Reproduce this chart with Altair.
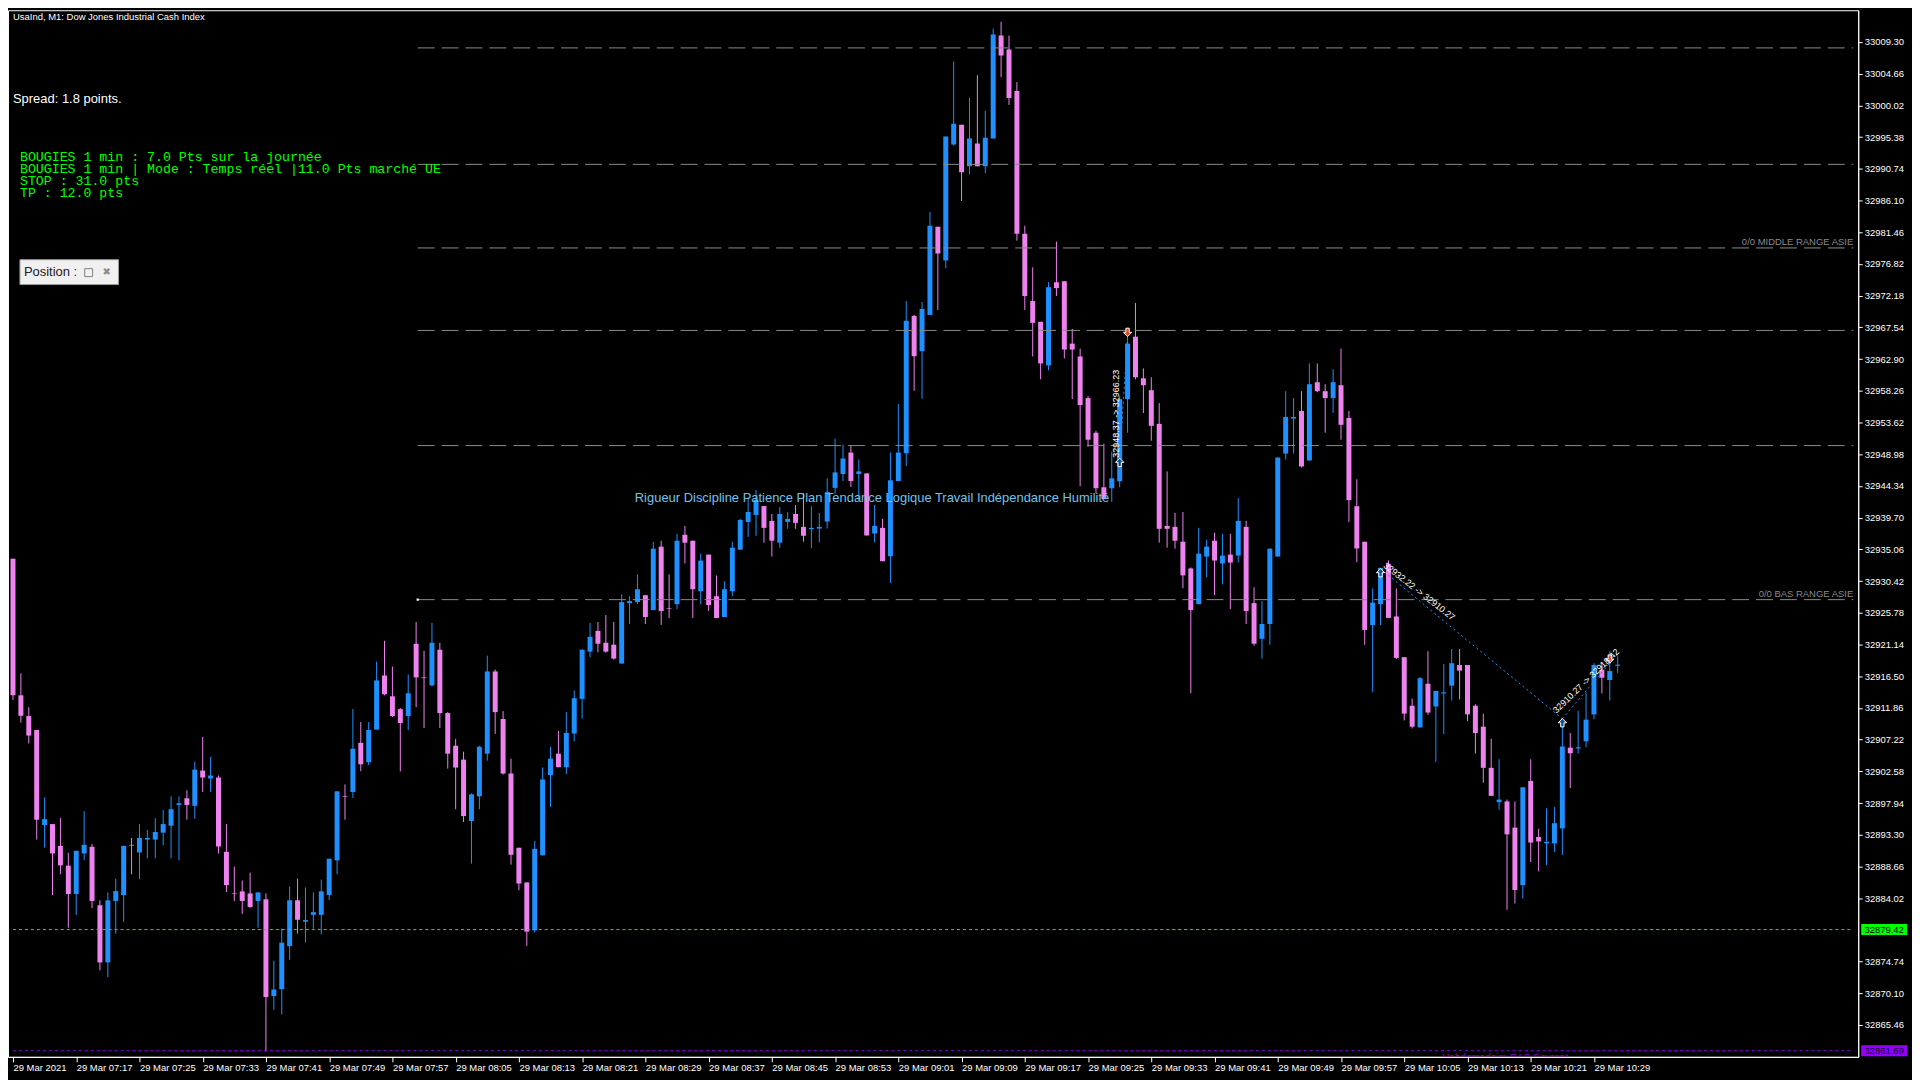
import json
import altair as alt
import pandas as pd

# ---------------- data (1-minute candles from 07:09) ----------------
opens = [32933.7, 32913.7, 32910.66, 32908.63, 32894.72, 32894.86, 32891.67, 32888.77, 32884.62, 32890.56,
         32891.53, 32882.98, 32874.62, 32883.61, 32884.47, 32891.82, 32890.71, 32892.59, 32892.59, 32893.60,
         32894.62, 32897.66, 32898.63, 32897.52, 32902.69, 32901.53, 32901.67, 32890.80, 32884.71, 32885.01,
         32884.71, 32883.61, 32883.85, 32869.69, 32870.7, 32877.0, 32883.71, 32880.57, 32881.58, 32881.58,
         32884.48, 32889.55, 32898.92, 32899.55, 32906.75, 32903.90, 32908.68, 32916.60, 32913.56, 32911.68,
         32910.66, 32921.24, 32916.32, 32915.16, 32920.37, 32911.10, 32906.32, 32904.29, 32895.30, 32898.92,
         32905.16, 32917.19, 32910.23, 32902.26, 32891.39, 32886.32, 32879.31, 32890.28, 32902.02, 32905.16,
         32903.18, 32908.11, 32913.18, 32920.09, 32923.13, 32921.39, 32921.10, 32918.35, 32927.19, 32927.33,
         32928.35, 32926.17, 32935.45, 32926.46, 32927.04, 32937.19, 32936.32, 32928.93, 32934.29, 32928.20,
         32925.16, 32928.93, 32935.01, 32939.07, 32940.09, 32941.39, 32939.22, 32936.03, 32939.07, 32940.23,
         32938.35, 32938.0, 32938.1, 32939.12, 32944.05, 32946.08, 32949.22, 32946.08, 32946.17, 32937.38,
         32938.20, 32934.05, 32945.06, 32949.12, 32969.22, 32964.05, 32969.36, 32982.26, 32977.33, 32994.29,
         32997.19, 32991.10, 32994.43, 32991.10, 32995.16, 33010.23, 33008.20, 33002.12, 32981.25, 32971.39,
         32968.35, 32961.97, 32974.14, 32974.29, 32965.16, 32963.28, 32957.19, 32952.12, 32944.14, 32944.00,
         32945.02, 32957.04, 32966.17, 32960.09, 32958.35, 32953.42, 32938.49, 32938.35, 32936.17, 32932.26,
         32927.04, 32934.00, 32936.32, 32932.99, 32934.29, 32934.14, 32938.35, 32927.19, 32921.97, 32924.14,
         32934.00, 32949.07, 32954.20, 32955.30, 32948.06, 32959.51, 32958.20, 32957.19, 32959.07, 32954.29,
         32941.37, 32936.17, 32923.98, 32927.04, 32932.90, 32925.24, 32919.28, 32912.17, 32909.00, 32915.39,
         32912.06, 32913.97, 32915.12, 32918.13, 32918.13, 32912.17, 32909.11, 32903.09, 32898.06, 32898.17,
         32894.34, 32885.92, 32901.17, 32892.97, 32892.04, 32892.04, 32894.23, 32906.04, 32905.93, 32906.97,
         32910.91, 32917.42, 32915.94, 32918.02]
highs = [32933.7, 32916.9, 32911.96, 32908.63, 32898.77, 32894.86, 32895.73, 32890.66, 32890.95, 32896.74,
         32891.96, 32883.70, 32884.86, 32886.89, 32891.67, 32892.83, 32894.86, 32894.00, 32895.73, 32896.89,
         32898.92, 32898.92, 32899.79, 32903.99, 32907.61, 32904.72, 32901.96, 32894.86, 32888.63, 32886.60,
         32887.76, 32884.86, 32884.71, 32874.86, 32879.6, 32885.74, 32886.89, 32885.59, 32884.87, 32886.75,
         32889.79, 32899.65, 32900.66, 32911.68, 32909.79, 32909.79, 32918.63, 32921.68, 32917.91, 32911.82,
         32916.75, 32924.43, 32920.23, 32924.29, 32921.39, 32911.24, 32907.33, 32905.45, 32899.35, 32906.32,
         32919.50, 32917.48, 32911.39, 32904.43, 32891.39, 32886.32, 32892.40, 32903.13, 32906.17, 32908.49,
         32911.25, 32914.43, 32920.38, 32924.29, 32924.43, 32925.45, 32924.43, 32928.49, 32928.20, 32931.39,
         32928.35, 32936.17, 32936.32, 32931.39, 32937.33, 32938.49, 32936.32, 32934.43, 32934.29, 32931.24,
         32930.38, 32936.17, 32939.51, 32942.70, 32943.76, 32941.39, 32940.23, 32941.24, 32940.52, 32941.54,
         32943.28, 32941.34, 32940.38, 32945.45, 32951.25, 32950.38, 32950.23, 32948.20, 32946.17, 32941.54,
         32939.51, 32949.22, 32956.32, 32971.39, 32969.36, 32971.25, 32984.43, 32982.26, 32995.45, 33006.46,
         32997.19, 33001.10, 33004.43, 32999.22, 33011.25, 33012.26, 33010.23, 33003.42, 32982.41, 32976.32,
         32968.35, 32974.14, 32980.09, 32974.29, 32967.33, 32964.43, 32957.48, 32952.41, 32950.52, 32949.36,
         32957.5, 32966.3, 32971.10, 32961.54, 32960.23, 32956.46, 32946.46, 32940.38, 32940.52, 32932.41,
         32938.20, 32936.46, 32937.48, 32937.33, 32937.33, 32942.55, 32939.22, 32929.51, 32927.48, 32935.16,
         32948.49, 32958.20, 32957.19, 32958.20, 32962.26, 32962.26, 32959.22, 32961.39, 32964.43, 32955.30,
         32945.31, 32936.17, 32929.34, 32932.35, 32933.44, 32929.34, 32919.28, 32913.21, 32916.38, 32920.15,
         32914.35, 32918.29, 32920.48, 32920.48, 32918.13, 32912.39, 32911.02, 32907.35, 32904.35, 32898.44,
         32898.17, 32900.24, 32904.35, 32894.17, 32897.18, 32897.35, 32910.3, 32908.18, 32911.46, 32914.13,
         32918.40, 32918.51, 32920.15, 32919.39]
lows = [32913.0, 32909.7, 32906.65, 32892.59, 32891.43, 32884.47, 32887.52, 32879.69, 32881.58, 32889.55,
        32882.59, 32873.46, 32872.45, 32878.82, 32880.56, 32887.52, 32886.79, 32889.84, 32889.84, 32891.72,
        32889.84, 32889.55, 32895.49, 32895.63, 32899.55, 32899.55, 32890.56, 32884.91, 32883.61, 32881.72,
        32882.59, 32879.69, 32861.58, 32867.66, 32867.0, 32875.0, 32878.83, 32877.52, 32879.55, 32878.68,
        32883.76, 32887.52, 32895.50, 32898.68, 32902.60, 32903.46, 32908.68, 32913.70, 32910.52, 32902.55,
        32908.63, 32911.97, 32908.92, 32915.01, 32908.92, 32902.98, 32897.04, 32895.16, 32889.07, 32897.04,
        32904.14, 32908.06, 32902.11, 32888.93, 32885.16, 32877.04, 32879.00, 32890.28, 32897.38, 32903.18,
        32902.17, 32906.95, 32910.28, 32919.27, 32919.99, 32919.94, 32918.93, 32918.35, 32924.14, 32927.04,
        32924.14, 32926.17, 32924.00, 32925.01, 32926.32, 32932.99, 32925.01, 32927.04, 32926.03, 32925.01,
        32925.16, 32928.20, 32935.01, 32936.90, 32937.04, 32936.03, 32934.00, 32935.30, 32938.06, 32938.06,
        32936.17, 32935.21, 32936.08, 32938.11, 32943.18, 32945.06, 32944.19, 32942.31, 32937.09, 32936.08,
        32933.32, 32930.14, 32945.06, 32947.24, 32958.25, 32957.09, 32969.36, 32970.09, 32976.17, 32994.14,
        32986.03, 32989.94, 32991.10, 32990.09, 32995.16, 33004.14, 33000.09, 32980.23, 32970.09, 32963.28,
        32959.94, 32961.25, 32972.12, 32962.99, 32957.04, 32944.29, 32950.09, 32943.28, 32942.41, 32941.97,
        32944.15, 32952.12, 32959.94, 32955.01, 32950.96, 32936.03, 32935.30, 32935.16, 32929.36, 32914.0,
        32927.04, 32930.96, 32928.35, 32929.94, 32926.32, 32933.13, 32924.14, 32920.96, 32919.07, 32921.10,
        32934.00, 32948.20, 32949.07, 32947.04, 32948.06, 32958.06, 32952.12, 32955.01, 32951.10, 32939.07,
        32933.17, 32921.08, 32914.14, 32923.98, 32925.02, 32919.00, 32910.03, 32908.84, 32909.00, 32910.85,
        32903.96, 32908.01, 32912.93, 32913.10, 32909.92, 32905.17, 32900.90, 32898.99, 32896.96, 32882.31,
        32883.24, 32883.95, 32889.31, 32887.94, 32888.87, 32890.78, 32890.34, 32900.13, 32905.17, 32906.10,
        32910.20, 32913.97, 32912.93, 32916.98]
closes = [32913.7, 32910.7, 32907.81, 32895.49, 32895.58, 32890.56, 32888.82, 32884.62, 32890.95, 32891.82,
          32883.61, 32874.62, 32883.70, 32885.05, 32891.67, 32891.72, 32892.83, 32892.83, 32893.70, 32894.86,
          32897.03, 32897.90, 32897.66, 32902.83, 32901.67, 32901.96, 32891.58, 32885.92, 32884.62, 32883.61,
          32882.73, 32884.86, 32869.55, 32870.66, 32877.5, 32883.71, 32880.86, 32880.81, 32881.97, 32885.01,
          32889.79, 32899.65, 32898.83, 32905.88, 32903.61, 32908.63, 32915.88, 32913.85, 32910.66, 32909.65,
          32914.00, 32916.32, 32916.22, 32921.39, 32911.10, 32905.16, 32903.13, 32896.03, 32899.21, 32906.17,
          32917.19, 32911.24, 32902.26, 32890.37, 32886.17, 32879.12, 32891.24, 32901.39, 32904.43, 32903.18,
          32908.20, 32913.28, 32920.38, 32922.26, 32921.24, 32920.09, 32919.07, 32927.33, 32927.48, 32929.22,
          32925.16, 32935.16, 32926.03, 32926.37, 32936.32, 32936.03, 32929.22, 32933.42, 32926.90, 32925.01,
          32929.22, 32935.30, 32939.36, 32940.52, 32942.31, 32938.20, 32936.32, 32940.23, 32939.51, 32938.93,
          32937.04, 32938.2, 32938.35, 32943.42, 32946.32, 32948.35, 32945.06, 32946.46, 32937.09, 32938.49,
          32933.32, 32945.16, 32949.22, 32968.49, 32963.32, 32970.23, 32982.41, 32978.35, 32995.45, 32997.33,
          32990.23, 32995.16, 32991.10, 32995.30, 33010.38, 33007.33, 33001.10, 32981.25, 32972.12, 32968.20,
          32962.26, 32973.42, 32973.28, 32964.29, 32964.29, 32956.17, 32951.10, 32944.00, 32942.41, 32945.45,
          32957.04, 32965.16, 32960.23, 32959.07, 32953.13, 32938.06, 32938.06, 32936.32, 32931.25, 32926.17,
          32934.43, 32935.45, 32933.42, 32934.14, 32933.13, 32939.22, 32926.03, 32921.25, 32924.14, 32935.16,
          32948.49, 32954.43, 32954.43, 32947.19, 32959.22, 32958.20, 32957.19, 32959.51, 32953.28, 32942.26,
          32935.19, 32923.27, 32927.26, 32932.35, 32925.02, 32919.17, 32911.02, 32909.11, 32916.21, 32911.18,
          32914.35, 32914.13, 32918.40, 32917.31, 32910.91, 32908.18, 32903.09, 32898.99, 32898.44, 32893.36,
          32885.21, 32900.24, 32892.15, 32892.32, 32892.26, 32894.99, 32906.21, 32905.22, 32906.10, 32910.14,
          32918.13, 32916.27, 32917.25, 32918.18]

x_tick_index = [0, 8, 16, 24, 32, 40, 48, 56, 64, 72, 80, 88, 96, 104, 112, 120, 128, 136, 144, 152,
                160, 168, 176, 184, 192, 200]
x_tick_labels = ["29 Mar 2021", "29 Mar 07:17", "29 Mar 07:25", "29 Mar 07:33", "29 Mar 07:41",
                 "29 Mar 07:49", "29 Mar 07:57", "29 Mar 08:05", "29 Mar 08:13", "29 Mar 08:21",
                 "29 Mar 08:29", "29 Mar 08:37", "29 Mar 08:45", "29 Mar 08:53", "29 Mar 09:01",
                 "29 Mar 09:09", "29 Mar 09:17", "29 Mar 09:25", "29 Mar 09:33", "29 Mar 09:41",
                 "29 Mar 09:49", "29 Mar 09:57", "29 Mar 10:05", "29 Mar 10:13", "29 Mar 10:21",
                 "29 Mar 10:29"]
y_tick_values = [33009.30, 33004.66, 33000.02, 32995.38, 32990.74, 32986.10, 32981.46, 32976.82,
                 32972.18, 32967.54, 32962.90, 32958.26, 32953.62, 32948.98, 32944.34, 32939.70,
                 32935.06, 32930.42, 32925.78, 32921.14, 32916.50, 32911.86, 32907.22, 32902.58,
                 32897.94, 32893.30, 32888.66, 32884.02, 32874.74, 32870.10, 32865.46]

level_prices = [33008.43, 32991.39, 32979.16, 32967.09, 32950.24, 32927.70]
level_names = ["", "", "0/0 MIDDLE RANGE ASIE", "", "", "0/0 BAS RANGE ASIE"]
level_start = 51.2

green_level = 32879.42
purple_level = 32861.69

entry_idx = [140, 173, 196]
entry_px = [32948.37, 32932.22, 32910.27]
exit_idx = [141, 202]
exit_px = [32966.23, 32918.42]
link_from_idx = [140, 173, 196]
link_from_px = [32948.37, 32932.22, 32910.27]
link_to_idx = [141, 196, 202]
link_to_px = [32966.23, 32910.27, 32918.42]
trade_texts = ["32948.37 -> 32966.23", "32932.22 -> 32910.27", "32910.27 -> 32918.42"]
trade_text_idx = [139.5, 177.9, 199.0]
trade_text_px = [32954.9, 32928.9, 32915.8]
trade_text_angle = [270, 38, 316]

motto = "Rigueur Discipline Patience Plan Tendance Logique Travail Indépendance Humilité"
info_lines = ["BOUGIES 1 min : 7.0 Pts sur la journée",
              "BOUGIES 1 min | Mode : Temps réel |11.0 Pts marché UE",
              "STOP : 31.0 pts",
              "TP : 12.0 pts"]

# ---------------- layout ----------------
W, H = 1858, 1051
XDOM = [0, 232.8]
YDOM = [32860.8, 33013.94]
UP, DOWN = "#1E90FF", "#EE82EE"
GREEN, PURPLE = "#00FF00", "#9400FF"
FONT = "Liberation Sans"

xs = alt.Scale(domain=XDOM, nice=False, zero=False)
ys = alt.Scale(domain=YDOM, nice=False, zero=False)

label_expr = json.dumps(x_tick_labels) + "[round(datum.value / 8)]"
x_axis = alt.Axis(values=x_tick_index, labelExpr=label_expr, labelAlign="left", labelBaseline="top",
                  labelPadding=1, tickSize=5, labelFont=FONT, labelFontSize=9.5, labelColor="white",
                  tickColor="white", domainColor="white", title=None, grid=False,
                  labelOverlap=False, labelFlush=False)
y_axis = alt.Axis(orient="right", values=y_tick_values, format=".2f", tickSize=4, labelPadding=2,
                  labelFont=FONT, labelFontSize=9.5, labelColor="white", tickColor="white",
                  domainColor="white", title=None, grid=False, labelOverlap=False, labelFlush=False)


def X(field):
    return alt.X(field, type="quantitative", scale=xs, axis=x_axis)


def Y(field):
    return alt.Y(field, type="quantitative", scale=ys, axis=y_axis)


candles = pd.DataFrame({"i": list(range(len(opens))), "open": opens, "high": highs,
                        "low": lows, "close": closes})
candles["dir"] = ["up" if c >= o else "down" for o, c in zip(opens, closes)]
color = alt.Color("dir:N", scale=alt.Scale(domain=["up", "down"], range=[UP, DOWN]), legend=None)

wicks = alt.Chart(candles).mark_rule(strokeWidth=1, clip=True).encode(
    x=X("i"), y=Y("low"), y2="high:Q", color=color)
bodies = alt.Chart(candles).mark_bar(size=5, clip=True).encode(
    x=X("i"), y=Y("open"), y2="close:Q", color=color)

levels = pd.DataFrame({"p": level_prices, "name": level_names,
                       "x0": [level_start] * len(level_prices), "x1": [XDOM[1]] * len(level_prices)})
level_lines = alt.Chart(levels).mark_rule(color="#8a8a8a", strokeDash=[17, 7], strokeWidth=1).encode(
    x=X("x0"), x2="x1:Q", y=Y("p"))
level_text = alt.Chart(levels).mark_text(align="right", baseline="bottom", dy=-1, fontSize=9.5,
                                         font=FONT, color="#8a8a8a").encode(
    x=X("x1"), y=Y("p"), text="name:N")
start_dot = alt.Chart(levels.iloc[[5]]).mark_square(size=5, color="white", opacity=1).encode(
    x=X("x0"), y=Y("p"))


def hline(price, col):
    df = pd.DataFrame({"p": [price], "x0": [XDOM[0]], "x1": [XDOM[1]], "txt": [f"{price:.2f}"],
                       "top": [price + 0.8], "bot": [price - 0.8]})
    line = alt.Chart(df).mark_rule(strokeDash=[3, 3], strokeWidth=1, color=col).encode(
        x=X("x0"), x2="x1:Q", y=Y("p"))
    box = alt.Chart(df).mark_rect(color=col).encode(
        x=alt.value(W + 3), x2=alt.value(W + 49), y=Y("top"), y2="bot:Q")
    txt = alt.Chart(df).mark_text(align="center", baseline="middle", fontSize=9.5, font=FONT,
                                  color="black").encode(x=alt.value(W + 26), y=Y("p"), text="txt:N")
    return [line, box, txt]


weekly = alt.Chart(pd.DataFrame({"t": ["Hebdomadaire BAS Courant"], "i": [180.8],
                                 "p": [purple_level - 0.15]})).mark_text(
    align="left", baseline="top", fontSize=10, font=FONT, color="#9400D3", clip=True).encode(
    x=X("i"), y=Y("p"), text="t:N")

links = pd.DataFrame({"i0": link_from_idx, "p0": link_from_px, "i1": link_to_idx, "p1": link_to_px})
link_lines = alt.Chart(links).mark_rule(color=UP, strokeDash=[2, 3], strokeWidth=1).encode(
    x=X("i0"), y=Y("p0"), x2="i1:Q", y2="p1:Q")

up_arrow = "M0,-1L1,0L0.4,0L0.4,1L-0.4,1L-0.4,0L-1,0Z"
down_arrow = "M0,1L1,0L0.4,0L0.4,-1L-0.4,-1L-0.4,0L-1,0Z"
entries = alt.Chart(pd.DataFrame({"i": entry_idx, "p": entry_px})).mark_point(
    shape=up_arrow, size=70, filled=True, fill="#0B4F8C", stroke="white", strokeWidth=1, opacity=1,
    yOffset=4).encode(x=X("i"), y=Y("p"))
exits = alt.Chart(pd.DataFrame({"i": exit_idx, "p": exit_px})).mark_point(
    shape=down_arrow, size=70, filled=True, fill="#F0401C", stroke="white", strokeWidth=1, opacity=1,
    yOffset=-4).encode(x=X("i"), y=Y("p"))
trade_labels = alt.Chart(pd.DataFrame({"t": trade_texts, "i": trade_text_idx, "p": trade_text_px,
                                       "a": trade_text_angle})).mark_text(
    align="center", baseline="middle", fontSize=9, font=FONT, color="white").encode(
    x=X("i"), y=Y("p"), text="t:N", angle=alt.Angle("a:Q", scale=None))

motto_layer = alt.Chart(pd.DataFrame({"t": [motto], "i": [78.66], "p": [32942.6]})).mark_text(
    align="left", baseline="middle", fontSize=13, font=FONT, color="#6EC3EF").encode(
    x=X("i"), y=Y("p"), text="t:N")


def overlay(text, x, y, size, color, font=FONT, align="left", baseline="middle"):
    return alt.Chart(pd.DataFrame({"t": [text]})).mark_text(
        align=align, baseline=baseline, fontSize=size, font=font, color=color).encode(
        x=alt.value(x), y=alt.value(y), text="t:N")


title_layer = overlay("UsaInd, M1:  Dow Jones Industrial Cash Index", 5, 7, 9.5, "white")
spread_layer = overlay("Spread: 1.8 points.", 5, 89, 13, "white")
info_layers = [overlay(t, 12, 147.5 + 12 * k, 13.3, GREEN, font="Liberation Mono")
               for k, t in enumerate(info_lines)]

pos_box = alt.Chart(pd.DataFrame({"a": [0]})).mark_rect(fill="#F0F0F0", stroke="#9a9a9a",
                                                         strokeWidth=1).encode(
    x=alt.value(12), x2=alt.value(111), y=alt.value(250.5), y2=alt.value(275.5))
pos_icon = alt.Chart(pd.DataFrame({"a": [0]})).mark_rect(fill="#F0F0F0", stroke="#808080",
                                                          strokeWidth=1).encode(
    x=alt.value(77), x2=alt.value(85), y=alt.value(259.5), y2=alt.value(267.5))
pos_text = overlay("Position :", 16, 263, 13, "#202020")
pos_close = overlay("✖", 99, 263, 10, "#8a8a8a", font="DejaVu Sans", align="center")

chart = alt.layer(
    wicks, bodies, level_lines, level_text, start_dot, *hline(green_level, GREEN),
    *hline(purple_level, PURPLE), weekly, link_lines, entries, exits, trade_labels, motto_layer,
    title_layer, spread_layer, *info_layers, pos_box, pos_icon, pos_text, pos_close,
).properties(
    width=W, height=H,
    autosize=alt.AutoSizeParams(type="none"),
    padding={"left": 0, "top": 0, "right": 54, "bottom": 21},
).configure(background="#000000").configure_view(stroke="white", strokeWidth=1)

chart.save("out.html", embed_options={"renderer": "svg", "actions": False})
